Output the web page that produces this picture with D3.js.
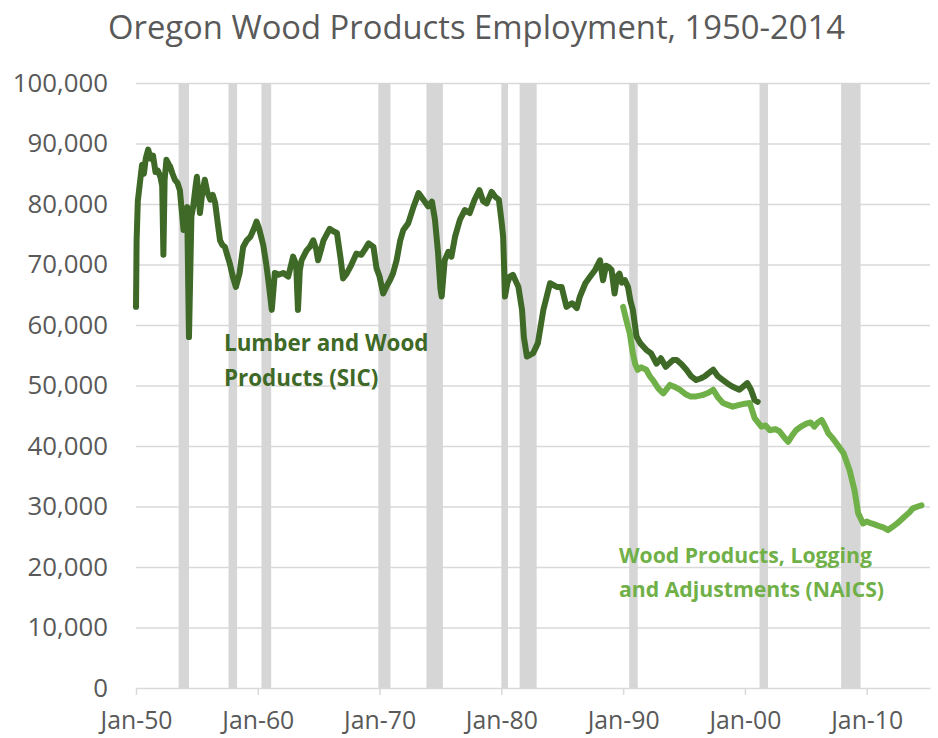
<!DOCTYPE html>
<html>
<head>
<meta charset="utf-8">
<script src="https://cdn.jsdelivr.net/npm/d3@7"></script>
<style>
  html, body { margin: 0; padding: 0; background: #ffffff; }
  svg { display: block; }
  text { font-family: "Open Sans", "Noto Sans", sans-serif; }
</style>
</head>
<body>
<svg id="chart" width="938" height="738"></svg>
<script>
// ---------- DATA ----------
const titleText = "Oregon Wood Products Employment, 1950-2014";

const yTicks = [0, 10000, 20000, 30000, 40000, 50000, 60000, 70000, 80000, 90000, 100000];
const xTickYears = [1950, 1960, 1970, 1980, 1990, 2000, 2010];
const xTickLabels = ["Jan-50", "Jan-60", "Jan-70", "Jan-80", "Jan-90", "Jan-00", "Jan-10"];

// Recession periods (decimal years)
const recessionStarts = [1953.5, 1957.6, 1960.3, 1969.9, 1973.85, 1980.0, 1981.5, 1990.5, 2001.2, 2007.9];
const recessionEnds   = [1954.35, 1958.3, 1961.1, 1970.9, 1975.2, 1980.55, 1982.9, 1991.2, 2001.9, 2009.5];

// Lumber and Wood Products (SIC) — decimal year / employment
const sicDates = [
  1950.0, 1950.05, 1950.15, 1950.35, 1950.5, 1950.65, 1950.8, 1951.0, 1951.2, 1951.4,
  1951.6, 1951.8, 1952.0, 1952.15, 1952.25, 1952.35, 1952.5, 1952.7, 1952.8, 1953.0,
  1953.2, 1953.4, 1953.6, 1953.8, 1953.9, 1954.1, 1954.2, 1954.35, 1954.55, 1954.7,
  1954.9, 1955.0, 1955.15, 1955.25, 1955.45, 1955.65, 1955.85, 1956.1, 1956.3, 1956.5,
  1956.7, 1956.9, 1957.1, 1957.3, 1957.5, 1957.7, 1957.95, 1958.2, 1958.5, 1958.8,
  1959.1, 1959.4, 1959.7, 1959.9, 1960.1, 1960.45, 1960.7, 1960.95, 1961.15, 1961.4,
  1961.7, 1962.1, 1962.5, 1962.9, 1963.15, 1963.3, 1963.45, 1963.6, 1964.0, 1964.3,
  1964.55, 1964.8, 1964.95, 1965.2, 1965.4, 1965.9, 1966.2, 1966.5, 1966.8, 1967.0,
  1967.3, 1967.6, 1968.1, 1968.5, 1968.8, 1969.1, 1969.5, 1969.75, 1970.0, 1970.3,
  1970.6, 1970.85, 1971.1, 1971.4, 1971.7, 1971.95, 1972.35, 1972.8, 1973.2, 1973.6,
  1974.0, 1974.3, 1974.55, 1974.8, 1975.0, 1975.1, 1975.35, 1975.65, 1975.9, 1976.2,
  1976.6, 1977.0, 1977.4, 1977.8, 1978.2, 1978.5, 1978.8, 1979.2, 1979.5, 1979.8,
  1980.0, 1980.15, 1980.3, 1980.5, 1980.7, 1980.95, 1981.4, 1981.7, 1981.85, 1982.1,
  1982.6, 1983.0, 1983.45, 1984.0, 1984.55, 1984.95, 1985.35, 1985.8, 1986.2, 1986.45,
  1986.9, 1987.3, 1987.7, 1988.1, 1988.35, 1988.6, 1988.8, 1989.05, 1989.3, 1989.5,
  1989.7, 1989.9, 1990.15, 1990.4, 1990.6, 1990.8, 1991.1, 1991.4, 1991.9, 1992.3,
  1992.75, 1993.1, 1993.5, 1994.1, 1994.4, 1994.8, 1995.2, 1995.6, 1996.0, 1996.4,
  1996.7, 1997.0, 1997.4, 1997.8, 1998.2, 1998.6, 1999.0, 1999.55, 2000.2, 2000.5,
  2000.8, 2001.05
];
const sicValues = [
  63000, 74000, 80500, 84000, 86500, 85000, 87500, 89000, 87500, 88000,
  85300, 85500, 84500, 83000, 71600, 84000, 87300, 86500, 86200, 85000,
  84000, 83500, 82300, 78000, 75700, 79000, 79500, 58000, 78000, 79600,
  83000, 84500, 81000, 78500, 82000, 84000, 82000, 80700, 81500, 80200,
  77000, 74000, 73200, 72900, 71500, 70200, 68000, 66300, 68500, 72900,
  74000, 74600, 76000, 77100, 76000, 73200, 70000, 66000, 62500, 68600,
  68300, 68600, 68000, 71300, 70000, 62500, 69000, 70700, 72300, 73000,
  74000, 72500, 70700, 72500, 74000, 75900, 75500, 75200, 71000, 67700,
  68500, 69600, 71800, 71600, 72500, 73500, 72900, 69400, 68000, 65200,
  66500, 67400, 68500, 70700, 74000, 75700, 76800, 79600, 81800, 80700,
  79600, 80400, 77400, 72000, 66000, 64700, 70700, 72100, 71300, 74600,
  77400, 79000, 78500, 80700, 82300, 80500, 80100, 82000, 81200, 80700,
  77400, 74600, 64700, 67000, 68000, 68300, 66300, 62500, 58000, 54800,
  55300, 57000, 62500, 66900, 66300, 66300, 63000, 63600, 62800, 64700,
  66900, 68000, 69100, 70700, 67400, 69800, 69600, 69100, 65200, 68000,
  68500, 67000, 67400, 66300, 64000, 62500, 58100, 57000, 55900, 55300,
  53600, 54500, 53100, 54200, 54200, 53500, 52600, 51500, 50900, 51200,
  51500, 52000, 52600, 51500, 50900, 50300, 49800, 49300, 50400, 49300,
  47600, 47300
];

// Wood Products, Logging and Adjustments (NAICS)
const naicsDates = [
  1990.0, 1990.3, 1990.55, 1990.8, 1991.0, 1991.2, 1991.5, 1991.9, 1992.2, 1992.45,
  1992.9, 1993.3, 1993.85, 1994.2, 1994.65, 1995.1, 1995.5, 1996.0, 1996.5, 1997.0,
  1997.4, 1997.8, 1998.2, 1998.6, 1999.0, 1999.55, 2000.0, 2000.4, 2000.8, 2001.35,
  2001.7, 2002.05, 2002.5, 2002.85, 2003.2, 2003.55, 2003.9, 2004.2, 2004.6, 2005.05,
  2005.4, 2005.7, 2006.0, 2006.3, 2006.6, 2006.85, 2007.2, 2007.5, 2008.1, 2008.6,
  2009.0, 2009.3, 2009.7, 2010.0, 2010.4, 2010.7, 2011.1, 2011.4, 2011.75, 2012.1,
  2012.5, 2013.1, 2013.5, 2013.8, 2014.2, 2014.5
];
const naicsValues = [
  63000, 60500, 58600, 55300, 53500, 52600, 53000, 52600, 51500, 50900,
  49500, 48700, 50100, 49800, 49300, 48600, 48200, 48200, 48400, 48800,
  49300, 48000, 47100, 46800, 46500, 46800, 47000, 47100, 44600, 43200,
  43400, 42600, 42800, 42400, 41500, 40700, 41800, 42600, 43200, 43700,
  43900, 43200, 43900, 44300, 43200, 42100, 41300, 40500, 38800, 36000,
  32700, 28900, 27200, 27500, 27200, 27000, 26700, 26500, 26100, 26600,
  27200, 28300, 29000, 29700, 30000, 30200
];

const sicLabel = ["Lumber and Wood", "Products (SIC)"];
const naicsLabel = ["Wood Products, Logging", "and Adjustments (NAICS)"];

// ---------- CHART ----------
const svg = d3.select("#chart");
const plotLeft = 136, plotRight = 930, plotTop = 83, plotBottom = 688;
const textGray = "#595959";
const gridGray = "#d9d9d9";
const sicColor = "#3e6926";
const naicsColor = "#70b048";

const x = d3.scaleLinear().domain([1950, 2015.2]).range([plotLeft, plotRight]);
const y = d3.scaleLinear().domain([0, 100000]).range([plotBottom, plotTop]);

function fitWidth(sel, target) {
  const node = sel.node();
  const fs = parseFloat(sel.attr("font-size"));
  const w = node.getComputedTextLength();
  if (w > 0) sel.attr("font-size", (fs * target / w).toFixed(2));
}

// Title
const title = svg.append("text")
  .attr("x", (108 + 845) / 2).attr("y", 39)
  .attr("text-anchor", "middle")
  .attr("font-size", 30)
  .attr("fill", textGray)
  .text(titleText);
fitWidth(title, 737);

// Gridlines + y labels
const yAxis = svg.append("g")
  .attr("transform", `translate(${plotLeft},0)`)
  .call(d3.axisLeft(y).tickValues(yTicks).tickSize(-(plotRight - plotLeft)).tickPadding(28)
    .tickFormat(d3.format(",")));
yAxis.select(".domain").remove();
yAxis.selectAll(".tick line").attr("stroke", gridGray).attr("stroke-width", 1.5)
  .filter(d => d === 0).remove();
yAxis.selectAll(".tick text")
  .attr("fill", textGray)
  .attr("font-size", 25.8)
  .attr("font-family", "'Open Sans', sans-serif");

// Recession bars
svg.append("g").selectAll("rect")
  .data(recessionStarts.map((s, i) => [s, recessionEnds[i]]))
  .join("rect")
  .attr("x", d => x(d[0]))
  .attr("width", d => x(d[1]) - x(d[0]))
  .attr("y", y(100000))
  .attr("height", y(0) - y(100000))
  .attr("fill", "#d6d6d6");

// X axis
const xAxis = svg.append("g")
  .attr("transform", `translate(0,${plotBottom})`)
  .call(d3.axisBottom(x).tickValues(xTickYears).tickSizeInner(7).tickSizeOuter(0)
    .tickPadding(16)
    .tickFormat((d, i) => xTickLabels[i]));
xAxis.select(".domain").attr("stroke", gridGray).attr("stroke-width", 1.5);
xAxis.selectAll(".tick line").attr("stroke", gridGray).attr("stroke-width", 1.5);
xAxis.selectAll(".tick text")
  .attr("fill", textGray)
  .attr("font-size", 24)
  .attr("font-family", "'Open Sans', sans-serif");
{
  const t0 = xAxis.select(".tick text");
  const w = t0.node().getComputedTextLength();
  const fs = 24 * 72 / w;
  xAxis.selectAll(".tick text").attr("font-size", fs.toFixed(2));
}

// Lines
const line = d3.line().x(d => x(d[0])).y(d => y(d[1])).curve(d3.curveLinear);

svg.append("path")
  .datum(naicsDates.map((d, i) => [d, naicsValues[i]]))
  .attr("d", line)
  .attr("fill", "none")
  .attr("stroke", naicsColor)
  .attr("stroke-width", 6)
  .attr("stroke-linejoin", "round")
  .attr("stroke-linecap", "round");

svg.append("path")
  .datum(sicDates.map((d, i) => [d, sicValues[i]]))
  .attr("d", line)
  .attr("fill", "none")
  .attr("stroke", sicColor)
  .attr("stroke-width", 6)
  .attr("stroke-linejoin", "round")
  .attr("stroke-linecap", "round");

// Annotations (two-line labels sized together to match total width)
function twoLineLabel(lines, x0, y0, y1, totalWidth, color) {
  const t0 = svg.append("text").attr("x", x0).attr("y", y0)
    .attr("font-size", 20).attr("font-weight", "bold").attr("fill", color).text(lines[0]);
  const t1 = svg.append("text").attr("x", x0).attr("y", y1)
    .attr("font-size", 20).attr("font-weight", "bold").attr("fill", color).text(lines[1]);
  const w = t0.node().getComputedTextLength() + t1.node().getComputedTextLength();
  const fs = (20 * totalWidth / w).toFixed(2);
  t0.attr("font-size", fs);
  t1.attr("font-size", fs);
}
twoLineLabel(sicLabel, 224, 351, 386, 205 + 154, sicColor);
twoLineLabel(naicsLabel, 619, 563, 597, 241 + 277, naicsColor);
</script>
</body>
</html>
